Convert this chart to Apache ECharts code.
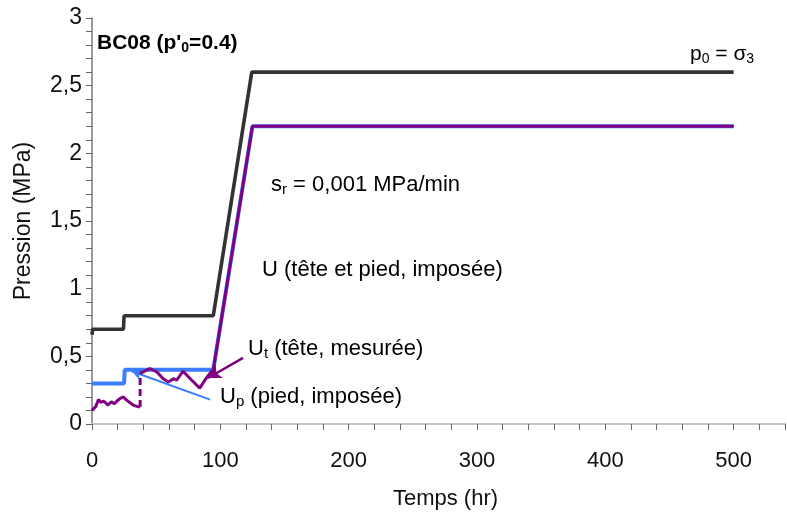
<!DOCTYPE html>
<html>
<head>
<meta charset="utf-8">
<script src="https://cdn.jsdelivr.net/npm/echarts@6/dist/echarts.min.js"></script>
<style>
  html, body { margin: 0; padding: 0; background: #fff; }
  #chart { width: 787px; height: 513px; }
</style>
</head>
<body>
<div id="chart"></div>
<script>
// Confining pressure p0 = sigma3 (MPa) against time (hr)
const p0Temps   = [0, 0.5, 24.5, 25, 94.5, 124.5, 500];
const p0Valeurs = [0.66, 0.70, 0.70, 0.80, 0.80, 2.60, 2.60];

// Imposed pore pressure at the base, Up
const upTemps   = [0, 25, 25.5, 94.5, 125, 500];
const upValeurs = [0.30, 0.30, 0.40, 0.40, 2.20, 2.20];

// Imposed pore pressure, top and base, U
const uTemps   = [94.5, 125, 500];
const uValeurs = [0.40, 2.20, 2.20];

// Measured pore pressure at the top, Ut (before and after the jump)
const utTemps1   = [0, 1.5, 3, 5, 7, 9, 12.5, 15, 17.5, 19.5, 22, 24.5, 26.5, 28.5, 32, 35, 37.5];
const utValeurs1 = [0.10, 0.09, 0.13, 0.18, 0.16, 0.17, 0.14, 0.165, 0.15, 0.17, 0.19, 0.20, 0.18, 0.165, 0.14, 0.13, 0.125];
const utSaut     = [0.125, 0.375];
const utTemps2   = [37.5, 40, 45, 50.5, 55.5, 59.5, 63.5, 66, 71, 77.5, 84, 88, 92, 94.5];
const utValeurs2 = [0.375, 0.385, 0.41, 0.385, 0.335, 0.31, 0.335, 0.325, 0.39, 0.325, 0.265, 0.325, 0.375, 0.40];

// Pointer lines from the labels to the curves: [t0, v0, t1, v1]
const flecheUt = [117.7, 0.488, 90.4, 0.34];
const flecheUp = [92, 0.18, 31, 0.39];

const xTicks = { min: 0, max: 540, step: 20, labelEvery: 100 };
const yTicks = { min: 0, max: 3, step: 0.1, labelEvery: 0.5 };

const zip = (t, v) => t.map((x, i) => [x, v[i]]);

const FONT = '"Liberation Sans", Arial, sans-serif';
const PURPLE = '#800080';
const BLUE = '#3c7dff';
const DARK = '#333333';

const chart = echarts.init(document.getElementById('chart'), null, { renderer: 'canvas' });

function richText(subColor, color, size, bold) {
  return { n: { fontSize: size, fontFamily: FONT, fontWeight: bold ? 'bold' : 'normal', color: color, lineHeight: 24 },
           s: { fontSize: Math.round(size * 0.68), fontFamily: FONT, fontWeight: bold ? 'bold' : 'normal', color: subColor || color, lineHeight: 12, verticalAlign: 'bottom' } };
}

function label(x, y, text, color, size, bold, subColor) {
  return {
    type: 'text', x: x, y: y, silent: true,
    style: { text: text, rich: richText(subColor, color, size, bold), align: 'left', verticalAlign: 'middle' }
  };
}

const option = {
  animation: false,
  backgroundColor: '#ffffff',
  grid: { left: 92, top: 18, right: 2, bottom: 89, containLabel: false, outerBoundsMode: 'none' },
  xAxis: [{
    type: 'value', min: xTicks.min, max: xTicks.max, interval: xTicks.step,
    name: 'Temps (hr)', nameLocation: 'middle', nameGap: 64,
    nameTextStyle: { fontFamily: FONT, fontSize: 22, color: '#111', padding: [0, 0, 0, 14] },
    axisLine: { show: true, onZero: false, lineStyle: { color: '#7a7a7a', width: 1.5 } },
    axisTick: { show: true, length: 6, lineStyle: { color: '#666' } },
    axisLabel: {
      margin: 26, fontFamily: FONT, fontSize: 22, color: '#111',
      formatter: v => (Math.round(v) % xTicks.labelEvery === 0 && v <= 500) ? String(Math.round(v)) : ''
    },
    splitLine: { show: false }
  }, {
    type: 'value', position: 'top', min: xTicks.min, max: xTicks.max,
    axisLine: { show: true, lineStyle: { color: '#c4c4c4', width: 2 } },
    axisTick: { show: false }, axisLabel: { show: false }, splitLine: { show: false }
  }],
  yAxis: {
    type: 'value', min: yTicks.min, max: yTicks.max, interval: yTicks.step,
    name: 'Pression (MPa)', nameLocation: 'middle', nameGap: 57, nameRotate: 90,
    nameTextStyle: { fontFamily: FONT, fontSize: 23, color: '#111' },
    axisLine: { show: true, lineStyle: { color: '#7a7a7a', width: 1.5 } },
    axisTick: { show: true, length: 6, lineStyle: { color: '#666' } },
    axisLabel: {
      margin: 10, fontFamily: FONT, fontSize: 23, color: '#111',
      formatter: v => {
        const k = Math.round(v * 10);
        if (k % 5 !== 0) return '';
        return String(k / 10).replace('.', ',');
      }
    },
    splitLine: { show: false }
  },
  series: [
    {
      name: 'p0', type: 'line', data: zip(p0Temps, p0Valeurs), showSymbol: false, symbol: 'none',
      lineStyle: { color: DARK, width: 3.6 }, z: 2
    },
    {
      name: 'Up', type: 'line', data: zip(upTemps, upValeurs), symbol: 'none',
      lineStyle: { color: BLUE, width: 4 }, z: 3
    },
    {
      name: 'U', type: 'line', data: zip(uTemps, uValeurs), symbol: 'none',
      lineStyle: { color: PURPLE, width: 3 }, z: 4
    },
    {
      name: 'Ut1', type: 'line', data: zip(utTemps1, utValeurs1), symbol: 'none',
      lineStyle: { color: PURPLE, width: 3 }, z: 5
    },
    {
      name: 'UtSaut', type: 'line', data: utSaut.map(v => [utTemps1[utTemps1.length - 1], v]), symbol: 'none',
      lineStyle: { color: PURPLE, width: 3, type: [7, 4] }, z: 5
    },
    {
      name: 'Ut2', type: 'line', data: zip(utTemps2, utValeurs2), symbol: 'none',
      lineStyle: { color: PURPLE, width: 3 }, z: 5,
      markLine: {
        silent: true, symbol: ['none', 'arrow'], symbolSize: [11, 13], animation: false,
        label: { show: false },
        lineStyle: { color: PURPLE, width: 2.5, type: 'solid' },
        data: [[{ coord: [flecheUt[0], flecheUt[1]] }, { coord: [flecheUt[2], flecheUt[3]] }]]
      }
    },
    {
      name: 'UpFleche', type: 'line', data: [], symbol: 'none',
      markLine: {
        silent: true, symbol: ['none', 'arrow'], symbolSize: [8, 10], animation: false,
        label: { show: false },
        lineStyle: { color: BLUE, width: 2, type: 'solid' },
        data: [[{ coord: [flecheUp[0], flecheUp[1]] }, { coord: [flecheUp[2], flecheUp[3]] }]]
      }
    }
  ],
  graphic: [
    label(97, 43, "{n|BC08 (p'}{s|0}{n|=0.4)}", '#111', 21, true),
    label(690, 54, '{n|p}{s|0}{n| = σ}{s|3}', '#111', 21, false, '#555'),
    label(271, 185, '{n|s}{s|r}{n| = 0,001 MPa/min}', '#111', 22, false),
    label(262, 270, '{n|U (tête et pied, imposée)}', PURPLE, 22, false),
    label(248, 349, '{n|U}{s|t}{n| (tête, mesurée)}', PURPLE, 22, false),
    label(220, 397, '{n|U}{s|p}{n| (pied, imposée)}', '#4272f0', 22, false)
  ]
};

chart.setOption(option);
</script>
</body>
</html>
